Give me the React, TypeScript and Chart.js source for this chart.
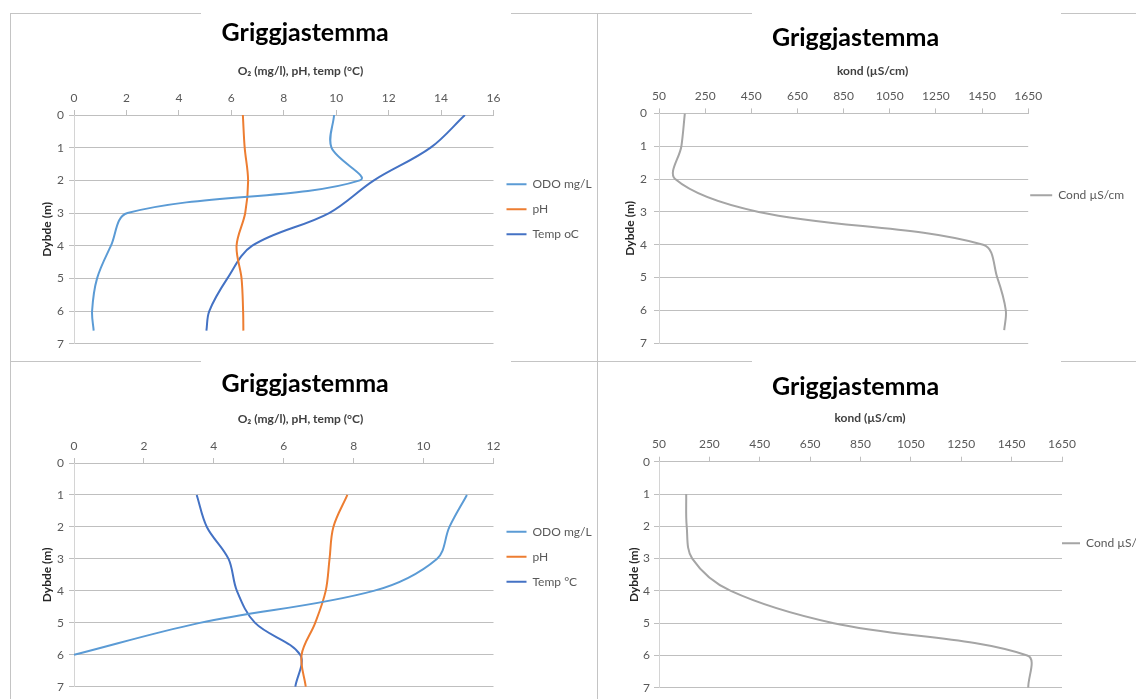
import { useEffect, useRef } from 'react';
import { Chart, registerables } from 'chart.js';

Chart.register(...registerables);

// ---------- data ----------
// Profile 1 (top row): depth (m)
const depth1 = [0, 1, 2, 3, 4, 5, 6, 6.6];
const odo1 = [9.92, 9.82, 10.9, 2.04, 1.41, 0.88, 0.69, 0.75];
const ph1 = [6.44, 6.51, 6.64, 6.53, 6.2, 6.39, 6.45, 6.46];
const temp1 = [14.91, 13.6, 11.44, 9.73, 6.8, 5.85, 5.16, 5.05];
const cond1 = [162, 147, 120, 482, 1455, 1516, 1553, 1546];

// Profile 2 (bottom row): depth (m)
const depth2 = [1, 2, 3, 4, 5, 6, 7];
const odo2: (number | null)[] = [11.24, 10.74, 10.38, 8.57, 3.6, 0.0, null];
const ph2 = [7.82, 7.42, 7.31, 7.2, 6.9, 6.51, 6.63];
const temp2 = [3.51, 3.8, 4.42, 4.66, 5.18, 6.47, 6.33];
const cond2 = [158, 160, 182, 335, 744, 1512, 1516];

// tick values
const depthTicks = [0, 1, 2, 3, 4, 5, 6, 7];
const paramTicks1 = [0, 2, 4, 6, 8, 10, 12, 14, 16];
const paramTicks2 = [0, 2, 4, 6, 8, 10, 12];
const condTicks = [50, 250, 450, 650, 850, 1050, 1250, 1450, 1650];

// texts
const chartTitle = 'Griggjastemma';
const paramAxisTitle = 'O₂ (mg/l), pH, temp (°C)';
const condAxisTitle = 'kond (µS/cm)';
const depthAxisTitle = 'Dybde (m)';
const odoLabel = 'ODO mg/L';
const phLabel = 'pH';
const temp1Label = 'Temp oC';
const temp2Label = 'Temp °C';
const condLabel = 'Cond µS/cm';

// colours
const ODO_COLOR = '#5B9BD5';
const PH_COLOR = '#ED7D31';
const TEMP_COLOR = '#4472C4';
const COND_COLOR = '#A5A5A5';
const GRID = '#BFBFBF';
const AXIS_LINE = '#D4D4D4';
const TICK_TEXT = '#595959';
const FONT = 'Lato, "Open Sans", "DejaVu Sans", sans-serif';

type Series = { label: string; xs: (number | null)[]; ys: number[]; color: string };

type PanelCfg = {
  left: number; top: number; width: number; height: number;
  padRight: number; padBottom: number;
  yWidth: number; xHeight: number;
  titlePadTop: number; titlePadBottom: number;
  axisTitlePadTop: number; axisTitleDx: number; xTickPad: number;
  yTitlePadTop: number; yTickPad: number;
  legendMax: number; legendPad: number; legendTitleH: number; legendLine: number;
  xMin: number; xMax: number; xTicks: number[]; xTitle: string;
  series: Series[];
};

const panels: PanelCfg[] = [
  {
    left: 34, top: 13, width: 566, height: 347, padRight: 23.6, padBottom: 16.3,
    yWidth: 40, xHeight: 56.6, titlePadTop: 5.4, titlePadBottom: 10,
    axisTitlePadTop: 5.8, axisTitleDx: 16.7, xTickPad: 4.8, yTitlePadTop: 5.8, yTickPad: 5,
    legendMax: 82.9, legendPad: 13, legendTitleH: 61.9, legendLine: 20,
    xMin: 0, xMax: 16, xTicks: paramTicks1, xTitle: paramAxisTitle,
    series: [
      { label: odoLabel, xs: odo1, ys: depth1, color: ODO_COLOR },
      { label: phLabel, xs: ph1, ys: depth1, color: PH_COLOR },
      { label: temp1Label, xs: temp1, ys: depth1, color: TEMP_COLOR },
    ],
  },
  {
    left: 618, top: 13, width: 518, height: 347, padRight: 43, padBottom: 16.7,
    yWidth: 41, xHeight: 55, titlePadTop: 10.4, titlePadBottom: 5,
    axisTitlePadTop: 5.8, axisTitleDx: 29, xTickPad: 4.8, yTitlePadTop: 5.2, yTickPad: 7,
    legendMax: 64.8, legendPad: 2, legendTitleH: 34.3, legendLine: 22,
    xMin: 50, xMax: 1650, xTicks: condTicks, xTitle: condAxisTitle,
    series: [{ label: condLabel, xs: cond1, ys: depth1, color: COND_COLOR }],
  },
  {
    left: 34, top: 361, width: 566, height: 338, padRight: 23.6, padBottom: 9,
    yWidth: 40, xHeight: 56.6, titlePadTop: 8.4, titlePadBottom: 7,
    axisTitlePadTop: 5.4, axisTitleDx: 16.7, xTickPad: 5.1, yTitlePadTop: 5.8, yTickPad: 5,
    legendMax: 82.9, legendPad: 13, legendTitleH: 62.4, legendLine: 20,
    xMin: 0, xMax: 12, xTicks: paramTicks2, xTitle: paramAxisTitle,
    series: [
      { label: odoLabel, xs: odo2, ys: depth2, color: ODO_COLOR },
      { label: phLabel, xs: ph2, ys: depth2, color: PH_COLOR },
      { label: temp2Label, xs: temp2, ys: depth2, color: TEMP_COLOR },
    ],
  },
  {
    left: 624, top: 361, width: 512, height: 338, padRight: 49, padBottom: 9.7,
    yWidth: 35, xHeight: 54.9, titlePadTop: 10.8, titlePadBottom: 5,
    axisTitlePadTop: 4.4, axisTitleDx: 9.5, xTickPad: 5.5, yTitlePadTop: 2.8, yTickPad: 4,
    legendMax: 25, legendPad: 0, legendTitleH: 36.3, legendLine: 18,
    xMin: 50, xMax: 1650, xTicks: condTicks, xTitle: condAxisTitle,
    series: [{ label: condLabel, xs: cond2, ys: depth2, color: COND_COLOR }],
  },
];

// Lets the legend text run past its (narrow) layout box, and nudges the
// horizontal axis title sideways the way the spreadsheet placed it.
const panelTweaks = {
  id: 'panelTweaks',
  afterLayout(chart: any, _args: any, opts: any) {
    const lg = chart.legend;
    if (lg) {
      lg.right = chart.width;
      lg.width = lg.right - lg.left;
    }
    const xs = chart.scales && chart.scales.x;
    if (xs && !xs.__titleShifted) {
      const orig = xs.drawTitle;
      const dx = (opts && opts.axisTitleDx) || 0;
      xs.drawTitle = function (...a: any[]) {
        const ctx = this.ctx;
        ctx.save();
        ctx.translate(dx, 0);
        orig.apply(this, a);
        ctx.restore();
      };
      xs.__titleShifted = true;
    }
  },
};

function Panel({ cfg }: { cfg: PanelCfg }) {
  const ref = useRef<HTMLCanvasElement>(null);
  useEffect(() => {
    const canvas = ref.current;
    if (!canvas) return;
    const chart = new Chart(canvas, {
      type: 'scatter',
      data: {
        datasets: cfg.series.map((s) => ({
          label: s.label,
          data: s.xs.map((x, i) => ({ x: x as number, y: s.ys[i] })),
          borderColor: s.color,
          backgroundColor: s.color,
          pointBorderColor: s.color,
          pointBackgroundColor: s.color,
          borderWidth: 2,
          pointBorderWidth: 2,
          pointRadius: 0,
          pointHoverRadius: 0,
          showLine: true,
          tension: 0.35,
          fill: false,
          spanGaps: false,
        })),
      },
      plugins: [panelTweaks],
      options: {
        responsive: false,
        animation: false,
        events: [],
        layout: { padding: { left: 0, top: 0, right: cfg.padRight, bottom: cfg.padBottom } },
        plugins: {
          tooltip: { enabled: false },
          panelTweaks: { axisTitleDx: cfg.axisTitleDx },
          title: {
            display: true,
            text: chartTitle,
            color: '#000000',
            font: { family: FONT, size: 25, weight: 'bold' },
            padding: { top: cfg.titlePadTop, bottom: cfg.titlePadBottom },
          },
          legend: {
            display: true,
            position: 'right',
            align: 'center',
            maxWidth: cfg.legendMax,
            title: {
              display: true,
              text: '',
              font: { family: FONT, size: 12 },
              padding: { top: cfg.legendTitleH - 14.4, bottom: 0 },
            },
            labels: {
              usePointStyle: true,
              pointStyle: 'line',
              pointStyleWidth: cfg.legendLine,
              color: TICK_TEXT,
              font: { family: FONT, size: 12 },
              padding: cfg.legendPad,
            },
          },
        },
        scales: {
          x: {
            type: 'linear',
            position: 'top',
            min: cfg.xMin,
            max: cfg.xMax,
            afterBuildTicks: (s: any) => {
              s.ticks = cfg.xTicks.map((v) => ({ value: v }));
            },
            afterFit: (s: any) => {
              s.height = cfg.xHeight;
            },
            ticks: {
              color: TICK_TEXT,
              font: { family: FONT, size: 12 },
              padding: cfg.xTickPad,
              maxRotation: 0,
              autoSkip: false,
              callback: (v: any) => String(v),
            },
            grid: { drawOnChartArea: false, drawTicks: true, tickLength: 5, color: GRID },
            border: { display: true, color: GRID },
            title: {
              display: true,
              text: cfg.xTitle,
              color: '#404040',
              font: { family: FONT, size: 12, weight: 'bold' },
              padding: { top: cfg.axisTitlePadTop, bottom: 0 },
            },
          },
          y: {
            type: 'linear',
            reverse: true,
            min: 0,
            max: 7,
            afterBuildTicks: (s: any) => {
              s.ticks = depthTicks.map((v) => ({ value: v }));
            },
            afterFit: (s: any) => {
              s.width = cfg.yWidth;
            },
            ticks: {
              color: TICK_TEXT,
              font: { family: FONT, size: 12 },
              padding: cfg.yTickPad,
              autoSkip: false,
              callback: (v: any) => String(v),
            },
            grid: { color: GRID, drawTicks: true, tickLength: 5 },
            border: { display: true, color: AXIS_LINE },
            title: {
              display: true,
              text: depthAxisTitle,
              color: '#262626',
              font: { family: FONT, size: 12, weight: 'bold' },
              padding: { top: cfg.yTitlePadTop, bottom: 0 },
            },
          },
        },
      } as any,
    });
    return () => chart.destroy();
  }, [cfg]);
  return (
    <canvas
      ref={ref}
      width={cfg.width}
      height={cfg.height}
      style={{ position: 'absolute', left: cfg.left, top: cfg.top, width: cfg.width, height: cfg.height }}
    />
  );
}

const frameSegments = [
  { x: 10, y: 13, w: 191, h: 1 },
  { x: 511, y: 13, w: 86, h: 1 },
  { x: 597, y: 13, w: 155, h: 1 },
  { x: 1061, y: 13, w: 75, h: 1 },
  { x: 10, y: 361, w: 191, h: 1 },
  { x: 511, y: 361, w: 86, h: 1 },
  { x: 597, y: 361, w: 155, h: 1 },
  { x: 1061, y: 361, w: 75, h: 1 },
  { x: 10, y: 13, w: 1, h: 686 },
  { x: 597, y: 13, w: 1, h: 686 },
];

export default function App() {
  return (
    <div
      style={{
        position: 'absolute',
        left: 0,
        top: 0,
        width: 1136,
        height: 699,
        overflow: 'hidden',
        background: '#ffffff',
      }}
    >
      {frameSegments.map((f, i) => (
        <div
          key={i}
          style={{ position: 'absolute', left: f.x, top: f.y, width: f.w, height: f.h, background: '#C4C4C4' }}
        />
      ))}
      {panels.map((p, i) => (
        <Panel key={i} cfg={p} />
      ))}
    </div>
  );
}
